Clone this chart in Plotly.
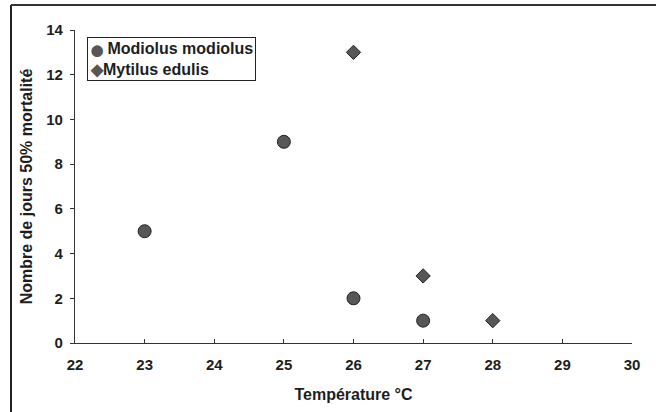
import plotly.graph_objects as go

# Temperature (°C) and days to 50% mortality for each species
modiolus_temp = [23, 25, 26, 27]
modiolus_days = [5, 9, 2, 1]
mytilus_temp = [26, 27, 28]
mytilus_days = [13, 3, 1]

species = ["Modiolus modiolus", "Mytilus edulis"]
x_ticks = [22, 23, 24, 25, 26, 27, 28, 29, 30]
y_ticks = [0, 2, 4, 6, 8, 10, 12, 14]

W, H = 656, 412
ML, MR, MT, MB = 75, 24, 30, 69
PW, PH = W - ML - MR, H - MT - MB

font_family = "Liberation Sans, Arial, sans-serif"
ink = "#1e1e1e"
marker_fill = "#575757"

fig = go.Figure()
fig.add_trace(go.Scatter(
    x=modiolus_temp, y=modiolus_days, mode="markers", name=species[0],
    marker=dict(symbol="circle", size=13, color=marker_fill,
                line=dict(color="#222222", width=1)),
))
fig.add_trace(go.Scatter(
    x=mytilus_temp, y=mytilus_days, mode="markers", name=species[1],
    marker=dict(symbol="diamond", size=11, color=marker_fill,
                line=dict(color="#222222", width=1)),
))

axis_common = dict(
    showgrid=False, zeroline=False, showline=True, linecolor="#333333",
    linewidth=1.2, ticklen=4, tickcolor="#333333", tickwidth=1,
    tickfont=dict(family=font_family, size=15, color=ink, weight="bold"),
)
title_font = dict(family=font_family, size=16, color=ink, weight="bold")

fig.update_layout(
    width=W, height=H,
    margin=dict(l=ML, r=MR, t=MT, b=MB),
    paper_bgcolor="white", plot_bgcolor="white",
    showlegend=False,
    xaxis=dict(
        range=[22, 30], tickvals=x_ticks, ticks="inside", ticklabelstandoff=8,
        title=dict(text="Température °C", standoff=16, font=title_font),
        **axis_common,
    ),
    yaxis=dict(
        range=[0, 14], tickvals=y_ticks, ticks="outside", ticklabelstandoff=4,
        title=dict(text="Nombre de jours 50% mortalité", standoff=9, font=title_font),
        **axis_common,
    ),
)

# Compact boxed key with the two marker glyphs
key_text = (
    f"<span style='color:{marker_fill};font-size:11px'>⬤</span> {species[0]}<br>"
    f"<span style='color:{marker_fill}'>◆</span>{species[1]}"
)
fig.add_annotation(
    xref="paper", yref="paper", x=(87 - ML) / PW, y=(H - MB - 37) / PH,
    xanchor="left", yanchor="top", align="left", showarrow=False,
    text=key_text, font=dict(family=font_family, size=16, color=ink, weight="bold"),
    bgcolor="white", bordercolor="#222222", borderwidth=1, borderpad=2,
)

# Outer frame: left and top edges of the figure box
left_px, top_px = 11, 5
fx = (left_px - ML) / PW
fy = (H - MB - top_px) / PH
fig.add_shape(type="line", xref="paper", yref="paper", x0=fx, x1=fx, y0=fy, y1=(H - MB - 412) / PH,
              line=dict(color="#222222", width=2))
fig.add_shape(type="line", xref="paper", yref="paper", x0=fx, x1=(W - ML) / PW, y0=fy, y1=fy,
              line=dict(color="#333333", width=2))

fig.write_html("out.html")
